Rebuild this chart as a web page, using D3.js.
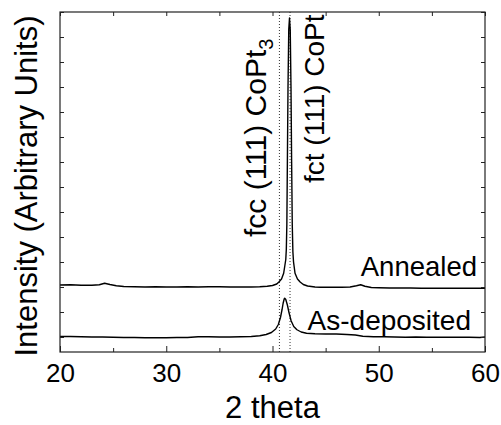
<!DOCTYPE html>
<html>
<head>
<meta charset="utf-8">
<script src="https://cdn.jsdelivr.net/npm/d3@7"></script>
<style>
    body { margin: 0; background: #fff; }
    svg { display: block; font-family: Arial, "Liberation Sans", sans-serif; }
</style>
</head>
<body>
<svg id="chart"></svg>
<script>
// Chart size and plot box
const CHART_WIDTH = 501;
const CHART_HEIGHT = 425;
const PLOT_LEFT = 60;
const PLOT_RIGHT = 485;
const PLOT_TOP = 12;
const PLOT_BOTTOM = 352;
const LINE_COLOR = "#000";

// X axis ticks (2 theta, degrees)
const xMajorTicks = [20, 30, 40, 50, 60];
const xMinorTicks = [25, 35, 45, 55];
// Y axis ticks, no labels (arbitrary units)
const yTicks = [0, 1, 2, 3, 4, 5, 6, 7, 8, 9, 10, 11, 12, 13];

// Reference peak positions (dotted lines)
const peakPositions = [40.65, 41.65];
const peakLabels = ["fcc (111) CoPt", "fct (111) CoPt"];

// Annealed pattern: [2 theta, intensity]
const annealed = [
    [20, 2.08], [21, 2.09], [22, 2.07], [23, 2.07], [23.7, 2.09], [24.2, 2.15],
    [24.7, 2.1], [25.3, 2.05], [26, 2.02], [27, 2.01], [28, 2.0], [29, 2.01],
    [30, 2.0], [31, 2.0], [32, 2.01], [33, 2.0], [34, 2.01], [35, 2.01],
    [36, 2.0], [37, 2.0], [38, 2.0], [38.8, 2.01], [39.5, 2.03], [40.0, 2.06],
    [40.4, 2.12], [40.6, 2.2], [40.85, 2.32], [41.05, 2.55], [41.16, 2.85],
    [41.25, 3.1], [41.3, 3.5], [41.35, 4.5], [41.4, 7.0], [41.46, 10.0],
    [41.53, 12.3], [41.6, 12.76], [41.67, 12.3], [41.74, 10.0], [41.8, 7.0],
    [41.86, 4.5], [41.92, 3.4], [41.98, 3.0], [42.12, 2.55], [42.35, 2.32],
    [42.6, 2.2], [42.9, 2.1], [43.3, 2.04], [44, 2.0], [44.5, 1.99], [45.5, 1.99],
    [46.5, 1.99], [47.3, 2.0], [47.9, 2.05], [48.3, 2.09], [48.7, 2.03],
    [49.3, 1.98], [50, 1.97], [51, 1.96], [52, 1.96], [53, 1.96], [54, 1.95],
    [55, 1.95], [56, 1.95], [57, 1.95], [58, 1.95], [59, 1.95], [60, 1.95]
];

// As-deposited pattern: [2 theta, intensity]
const asDeposited = [
    [20, 0.02], [21, 0.02], [22, 0.01], [23, 0.0], [24, 0.0], [25, -0.01],
    [26, -0.02], [27, -0.02], [28, -0.03], [29, -0.03], [30, -0.03], [31, -0.02],
    [32, -0.02], [33, 0.01], [34, 0.01], [35, 0.0], [36, 0.0], [37, 0.01],
    [38, 0.02], [38.8, 0.05], [39.4, 0.1], [39.9, 0.18], [40.3, 0.32],
    [40.55, 0.5], [40.75, 0.78], [40.9, 1.1], [41.0, 1.35], [41.1, 1.52],
    [41.15, 1.55], [41.25, 1.5], [41.4, 1.28], [41.55, 0.98], [41.75, 0.65],
    [42.0, 0.42], [42.3, 0.29], [42.7, 0.2], [43.2, 0.15], [44, 0.13],
    [45, 0.12], [46, 0.12], [47, 0.1], [47.8, 0.08], [48.5, 0.03], [49.5, 0.01],
    [50.5, 0.01], [51.5, 0.0], [52.5, -0.01], [53.5, 0.0], [54.5, -0.01],
    [55.5, -0.01], [56.5, -0.01], [57.5, -0.01], [58.5, -0.01], [59.5, -0.02],
    [60, 0.0]
];

function createChart() {
    const svg = d3.select("#chart")
        .attr("width", CHART_WIDTH)
        .attr("height", CHART_HEIGHT)
        .attr("viewBox", [0, 0, CHART_WIDTH, CHART_HEIGHT]);

    const x = d3.scaleLinear().domain([20, 60]).range([PLOT_LEFT, PLOT_RIGHT]);
    const y = d3.scaleLinear().domain([-0.6, 13]).range([PLOT_BOTTOM, PLOT_TOP]);

    // Dotted reference lines behind the data
    svg.append("g")
        .selectAll("line")
        .data(peakPositions)
        .join("line")
        .attr("x1", d => x(d)).attr("x2", d => x(d))
        .attr("y1", PLOT_TOP).attr("y2", PLOT_BOTTOM)
        .attr("stroke", "#333")
        .attr("stroke-width", 1)
        .attr("stroke-dasharray", "1,2");

    // Patterns
    const line = d3.line().x(d => x(d[0])).y(d => y(d[1]));
    [annealed, asDeposited].forEach(series => {
        svg.append("path")
            .datum(series)
            .attr("d", line)
            .attr("fill", "none")
            .attr("stroke", LINE_COLOR)
            .attr("stroke-width", 1.4)
            .attr("stroke-linejoin", "round");
    });

    // Axes: ticks point inward on all four sides
    const bottom = svg.append("g").attr("transform", `translate(0,${PLOT_BOTTOM})`);
    bottom.call(d3.axisBottom(x).tickValues(xMajorTicks).tickSizeInner(-6).tickSizeOuter(0).tickPadding(12));
    bottom.append("g").call(d3.axisBottom(x).tickValues(xMinorTicks).tickSizeInner(-4).tickSizeOuter(0).tickFormat(""));

    const top = svg.append("g").attr("transform", `translate(0,${PLOT_TOP})`);
    top.call(d3.axisTop(x).tickValues(xMajorTicks.concat(xMinorTicks)).tickSizeInner(-4).tickSizeOuter(0).tickFormat(""));

    svg.append("g").attr("transform", `translate(${PLOT_LEFT},0)`)
        .call(d3.axisLeft(y).tickValues(yTicks).tickSizeInner(-4).tickSizeOuter(0).tickFormat(""));
    svg.append("g").attr("transform", `translate(${PLOT_RIGHT},0)`)
        .call(d3.axisRight(y).tickValues(yTicks).tickSizeInner(-4).tickSizeOuter(0).tickFormat(""));

    svg.selectAll(".domain").remove();
    svg.selectAll(".tick line").attr("stroke", "#222");
    svg.selectAll(".tick text")
        .attr("font-size", 26)
        .attr("font-family", "Arial, 'Liberation Sans', sans-serif")
        .attr("fill", "#000");

    // Plot frame
    svg.append("rect")
        .attr("x", PLOT_LEFT).attr("y", PLOT_TOP)
        .attr("width", PLOT_RIGHT - PLOT_LEFT)
        .attr("height", PLOT_BOTTOM - PLOT_TOP)
        .attr("fill", "none")
        .attr("stroke", "#222")
        .attr("stroke-width", 1.2);

    // Axis titles
    svg.append("text")
        .attr("x", (PLOT_LEFT + PLOT_RIGHT) / 2)
        .attr("y", 418)
        .attr("text-anchor", "middle")
        .attr("font-size", 31)
        .text("2 theta");

    svg.append("text")
        .attr("transform", `translate(37,186) rotate(-90)`)
        .attr("text-anchor", "middle")
        .attr("font-size", 31)
        .text("Intensity (Arbitrary Units)");

    // Series labels
    svg.append("text")
        .attr("x", 477).attr("y", 276)
        .attr("text-anchor", "end")
        .attr("font-size", 27.5)
        .text("Annealed");
    svg.append("text")
        .attr("x", 471).attr("y", 330)
        .attr("text-anchor", "end")
        .attr("font-size", 28)
        .text("As-deposited");

    // Peak labels, rotated
    const fcc = svg.append("text")
        .attr("transform", `translate(266,237) rotate(-90)`)
        .attr("font-size", 30)
        .text(peakLabels[0]);
    fcc.append("tspan")
        .attr("font-size", 20)
        .attr("dy", 7)
        .text("3");

    svg.append("text")
        .attr("transform", `translate(324,183) rotate(-90)`)
        .attr("font-size", 28)
        .text(peakLabels[1]);
}

createChart();
</script>
</body>
</html>
